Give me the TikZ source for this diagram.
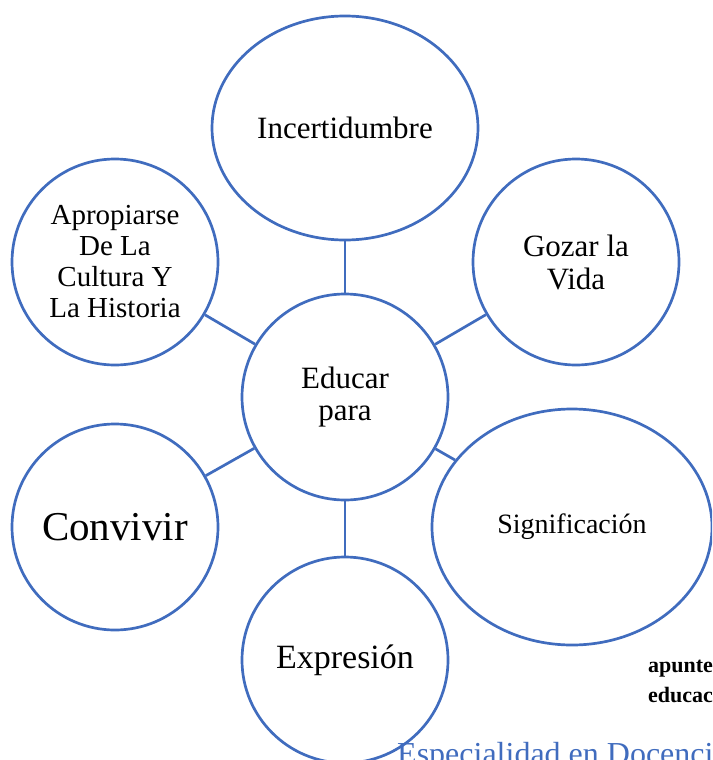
\documentclass[tikz,border=0pt]{standalone}
\usepackage{fontspec}
\setmainfont{Liberation Serif}
\usetikzlibrary{shapes.geometric}

\definecolor{ringblue}{RGB}{64,108,190}

\begin{document}
\begin{tikzpicture}[x=1pt,y=-1pt,
  idea/.style={circle,draw=ringblue,line width=2.7pt,minimum size=206pt,inner sep=0pt,align=center,text=black},
  oval/.style={ellipse,draw=ringblue,line width=2.7pt,inner sep=0pt,align=center,text=black},
  link/.style={draw=ringblue,line width=2.7pt}]

  \clip (0,0) rectangle (712,760);

  % hub
  \node[idea,font=\fontsize{31}{32}\selectfont] (edu) at (345,397) {Educar\\para};

  % ring of ideas
  \node[oval,minimum width=266pt,minimum height=224pt,font=\fontsize{31}{33}\selectfont] (inc) at (345,128) {Incertidumbre};
  \node[idea,font=\fontsize{29}{31}\selectfont] (apro) at (115,262) {Apropiarse\\De La\\Cultura Y\\La Historia};
  \node[idea,font=\fontsize{31}{33}\selectfont] (gozar) at (576,262) {Gozar la\\Vida};
  \node[idea,font=\fontsize{41}{43}\selectfont] (conv) at (115,527) {Convivir};
  \node[idea,font=\fontsize{34}{36}\selectfont] (expr) at (345,660) {Expresión};
  \node[oval,minimum width=280pt,minimum height=236pt,font=\fontsize{28}{30}\selectfont] (sig) at (572,527) {Significación};

  % spokes
  \draw[link] (edu) -- (inc);
  \draw[link] (edu) -- (apro);
  \draw[link] (edu) -- (gozar);
  \draw[link] (edu) -- (conv);
  \draw[link] (edu) -- (expr);
  \draw[link] (edu) -- (sig);

  % page text behind the picture
  \node[anchor=base west,font=\bfseries\fontsize{22}{24}\selectfont,inner sep=0pt] (note) at (648,672) {apuntes};
  \node[anchor=base west,font=\bfseries\fontsize{22}{24}\selectfont,inner sep=0pt] (note2) at (648,702) {educación};
  \node[anchor=base west,font=\fontsize{32}{34}\selectfont,text=ringblue,inner sep=0pt] (spec) at (397,764) {Especialidad en Docencia};
\end{tikzpicture}
\end{document}
